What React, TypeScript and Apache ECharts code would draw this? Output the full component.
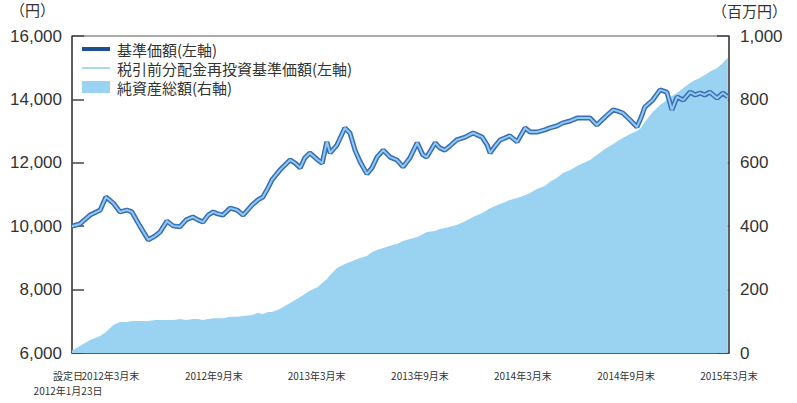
import React, { useEffect, useRef } from "react";
import * as echarts from "echarts";

// ---- data ----
const dates = [
  "2012-01-23","2012-02-06","2012-02-24","2012-03-13","2012-03-23","2012-04-05","2012-04-17","2012-04-29",
  "2012-05-08","2012-05-22","2012-06-06","2012-06-18","2012-06-27","2012-07-09","2012-07-20","2012-08-01",
  "2012-08-12","2012-08-24","2012-09-02","2012-09-11","2012-09-20","2012-09-29","2012-10-07","2012-10-16",
  "2012-10-29","2012-11-10","2012-11-21","2012-12-07","2012-12-17","2012-12-26","2013-01-04","2013-01-11",
  "2013-01-25","2013-02-12","2013-02-21","2013-03-02","2013-03-10","2013-03-19","2013-04-02","2013-04-10",
  "2013-04-18","2013-04-24","2013-05-06","2013-05-20","2013-05-29","2013-06-07","2013-06-16","2013-06-28",
  "2013-07-07","2013-07-16","2013-07-27","2013-08-08","2013-08-20","2013-08-31","2013-09-12","2013-09-25",
  "2013-10-05","2013-10-12","2013-10-27","2013-11-04","2013-11-13","2013-11-22","2013-12-04","2013-12-19",
  "2014-01-02","2014-01-18","2014-01-27","2014-02-01","2014-02-10","2014-02-19","2014-03-08","2014-03-21",
  "2014-04-04","2014-04-13","2014-04-25","2014-05-09","2014-05-18","2014-05-30","2014-06-10","2014-06-23",
  "2014-07-05","2014-07-16","2014-07-28","2014-08-09","2014-08-24","2014-09-07","2014-09-15","2014-09-24",
  "2014-10-07","2014-10-19","2014-10-26","2014-11-02","2014-11-16","2014-11-29","2014-12-11","2014-12-20",
  "2014-12-29","2015-01-09","2015-01-21","2015-01-30","2015-02-08","2015-02-16","2015-02-25","2015-03-10",
  "2015-03-20","2015-03-29"
];

// 基準価額 (円)
const nav = [
  10000,10070,10350,10510,10920,10730,10450,10510,
  10450,10010,9570,9690,9820,10160,10010,9980,
  10200,10290,10200,10130,10350,10450,10390,10350,
  10570,10510,10350,10670,10830,10920,11210,11460,
  11770,12090,11990,11840,12150,12310,12090,11990,
  12660,12310,12560,13100,12940,12400,12030,11650,
  11840,12180,12400,12180,12090,11870,12150,12630,
  12250,12180,12630,12470,12400,12530,12720,12810,
  12940,12810,12560,12310,12530,12720,12850,12660,
  13100,12970,12970,13040,13100,13160,13260,13320,
  13410,13410,13410,13190,13450,13670,13630,13570,
  13350,13130,13410,13760,13980,14300,14230,13670,
  14080,13980,14230,14140,14200,14140,14230,14040,
  14200,14080
];

// 税引前分配金再投資基準価額 (円) — no distributions, identical to 基準価額
const navReinvested = [
  10000,10070,10350,10510,10920,10730,10450,10510,
  10450,10010,9570,9690,9820,10160,10010,9980,
  10200,10290,10200,10130,10350,10450,10390,10350,
  10570,10510,10350,10670,10830,10920,11210,11460,
  11770,12090,11990,11840,12150,12310,12090,11990,
  12660,12310,12560,13100,12940,12400,12030,11650,
  11840,12180,12400,12180,12090,11870,12150,12630,
  12250,12180,12630,12470,12400,12530,12720,12810,
  12940,12810,12560,12310,12530,12720,12850,12660,
  13100,12970,12970,13040,13100,13160,13260,13320,
  13410,13410,13410,13190,13450,13670,13630,13570,
  13350,13130,13410,13760,13980,14300,14230,13670,
  14080,13980,14230,14140,14200,14140,14230,14040,
  14200,14080
];

// 純資産総額 (百万円)
const netAssets = [
  8,22,41,54,66,88,98,98,
  101,101,101,104,104,104,104,107,
  104,107,107,104,107,110,110,110,
  114,114,117,120,126,123,129,129,
  139,158,167,177,186,196,208,221,
  233,246,268,281,287,293,300,306,
  319,325,331,338,344,353,360,366,
  375,382,385,391,394,398,404,416,
  429,442,451,457,464,470,483,489,
  498,505,517,527,540,552,568,577,
  590,599,609,625,644,659,669,678,
  691,700,710,729,760,782,798,811,
  820,836,852,861,868,877,887,899,
  915,931
];

const startDate = "2012-01-23";
const startLabel = "設定日\n2012年1月23日";
const tickDates = ["2012-03-31","2012-09-30","2013-03-31","2013-09-30","2014-03-31","2014-09-30","2015-03-31"];
const tickLabels = ["2012年3月末","2012年9月末","2013年3月末","2013年9月末","2014年3月末","2014年9月末","2015年3月末"];

const seriesNames = ["基準価額(左軸)", "税引前分配金再投資基準価額(左軸)", "純資産総額(右軸)"];
const leftTicks = { min: 6000, max: 16000, interval: 2000 };
const rightTicks = { min: 0, max: 1000, interval: 200 };

const toTs = (s: string) => new Date(s + "T00:00:00Z").getTime();

export default function App() {
  const ref = useRef<HTMLDivElement>(null);
  useEffect(() => {
    if (!ref.current) return;
    const chart = echarts.init(ref.current, undefined, { renderer: "svg" });
    const tickTs = tickDates.map(toTs);
    const startTs = toTs(startDate);
    const endTs = tickTs[tickTs.length - 1];
    const font = "'Noto Sans CJK JP', 'Noto Sans', sans-serif";
    const numFont = "'Liberation Sans', Arial, sans-serif";
    const axisColor = "#444";
    const textColor = "#333";
    const navDark = "#1e4f92";
    const navOuter = "#3a6db3";
    const navLight = "#8fcaf2";
    const areaColor = "#9ad3f2";
    const legendX = 82;
    const legendRows = [49, 68, 87];
    const nearestLabel = (v: number) => {
      let best = 0;
      let bd = Infinity;
      tickTs.forEach((t, i) => {
        const d = Math.abs(t - v);
        if (d < bd) { bd = d; best = i; }
      });
      return tickLabels[best];
    };
    const xLabelBase = {
      margin: 15, fontSize: 10, lineHeight: 15, color: textColor, fontFamily: font, hideOverlap: false,
    };
    chart.setOption({
      animation: false,
      backgroundColor: "#fff",
      textStyle: { fontFamily: font },
      grid: {
        left: 72, right: 68, top: 36, bottom: 50,
        show: true, borderColor: "#555", borderWidth: 1, backgroundColor: "transparent",
        containLabel: false,
      },
      graphic: [
        { type: "text", left: 10, top: 2, style: { text: "（円）", fill: textColor, font: `15px ${font}` } },
        { type: "text", left: 712, top: 3, style: { text: "（百万円）", fill: textColor, font: `15px ${font}` } },
        // legend
        { type: "line", shape: { x1: legendX, y1: legendRows[0], x2: legendX + 28, y2: legendRows[0] }, style: { stroke: navDark, lineWidth: 4 }, z: 10 },
        { type: "line", shape: { x1: legendX, y1: legendRows[1], x2: legendX + 28, y2: legendRows[1] }, style: { stroke: navLight, lineWidth: 1.5 }, z: 10 },
        { type: "rect", shape: { x: legendX, y: legendRows[2] - 6, width: 28, height: 12 }, style: { fill: areaColor }, z: 10 },
        ...seriesNames.map((n, i) => ({
          type: "text", x: legendX + 35, y: legendRows[i], z: 10,
          style: { text: n, fill: textColor, font: `15px ${font}`, verticalAlign: "middle" },
        })),
      ],
      xAxis: [
        {
          type: "value",
          min: startTs,
          max: endTs,
          axisLine: { show: true, onZero: false, lineStyle: { color: axisColor, width: 1.5 } },
          axisTick: {
            show: true, inside: true, length: 12,
            customValues: tickTs.slice(0, tickTs.length - 1),
            lineStyle: { color: axisColor, width: 1.5 },
          },
          axisLabel: {
            ...xLabelBase,
            customValues: tickTs,
            showMinLabel: true,
            showMaxLabel: true,
            formatter: (v: number) => nearestLabel(v),
          },
          splitLine: { show: false },
        },
        {
          type: "value",
          position: "bottom",
          min: startTs,
          max: endTs,
          axisLine: { show: false, onZero: false },
          axisTick: { show: false },
          axisLabel: {
            ...xLabelBase,
            customValues: [startTs],
            showMinLabel: true,
            padding: [0, 8, 0, 0],
            formatter: () => startLabel,
          },
          splitLine: { show: false },
        },
      ],
      yAxis: [
        {
          type: "value",
          ...leftTicks,
          position: "left",
          axisLine: { show: true, lineStyle: { color: axisColor, width: 1.5 } },
          axisTick: { show: true, inside: true, length: 12, lineStyle: { color: axisColor, width: 1.5 } },
          axisLabel: {
            margin: 10, fontSize: 17, color: textColor, fontFamily: numFont,
            formatter: (v: number) => v.toLocaleString("en-US"),
          },
          splitLine: { show: false },
        },
        {
          type: "value",
          ...rightTicks,
          position: "right",
          axisLine: { show: true, lineStyle: { color: axisColor, width: 1.5 } },
          axisTick: { show: true, inside: true, length: 12, lineStyle: { color: axisColor, width: 1.5 } },
          axisLabel: {
            margin: 11, fontSize: 17, color: textColor, fontFamily: numFont,
            formatter: (v: number) => v.toLocaleString("en-US"),
          },
          splitLine: { show: false },
        },
      ],
      series: [
        {
          name: seriesNames[2],
          type: "line",
          xAxisIndex: 0,
          yAxisIndex: 1,
          data: dates.map((d, i) => [toTs(d), netAssets[i]]),
          symbol: "none",
          color: areaColor,
          lineStyle: { width: 0, color: areaColor },
          areaStyle: { color: areaColor, opacity: 1 },
          z: 1,
        },
        {
          name: seriesNames[0],
          type: "line",
          xAxisIndex: 0,
          yAxisIndex: 0,
          data: dates.map((d, i) => [toTs(d), nav[i]]),
          symbol: "none",
          color: navDark,
          lineStyle: { width: 5, color: navOuter },
          z: 3,
        },
        {
          name: seriesNames[1],
          type: "line",
          xAxisIndex: 0,
          yAxisIndex: 0,
          data: dates.map((d, i) => [toTs(d), navReinvested[i]]),
          symbol: "none",
          color: navLight,
          lineStyle: { width: 2, color: navLight },
          z: 4,
        },
      ],
    });
    return () => chart.dispose();
  }, []);
  return <div ref={ref} style={{ width: 797, height: 403, position: "absolute", left: 0, top: 0 }} />;
}
